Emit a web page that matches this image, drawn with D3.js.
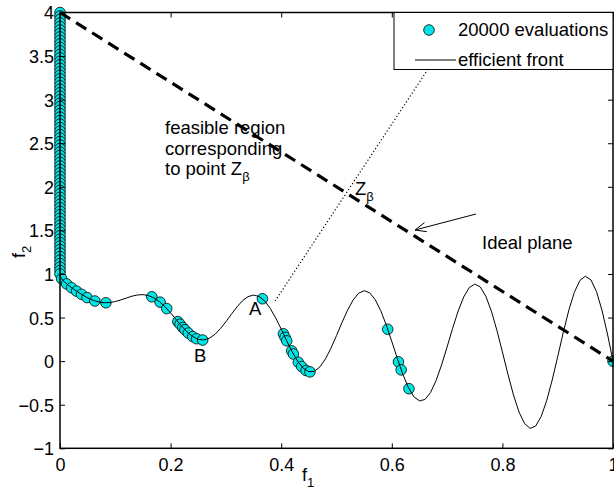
<!DOCTYPE html>
<html><head><meta charset="utf-8">
<script src="https://cdn.jsdelivr.net/npm/d3@7"></script>
<style>body{margin:0;background:#fff}svg{display:block}text{font-family:"Liberation Sans",Arial,sans-serif}</style>
</head><body>
<script>
// ---------- data ----------
const xTicks = [0, 0.2, 0.4, 0.6, 0.8, 1];
const xTickLabels = ["0", "0.2", "0.4", "0.6", "0.8", "1"];
const yTicks = [-1, -0.5, 0, 0.5, 1, 1.5, 2, 2.5, 3, 3.5, 4];
const yTickLabels = ["\u22121", "\u22120.5", "0", "0.5", "1", "1.5", "2", "2.5", "3", "3.5", "4"];

// efficient front
const frontF1 = [0, 0.001, 0.003, 0.005, 0.01, 0.02, 0.03, 0.04, 0.05, 0.06, 0.07, 0.08, 0.09, 0.10,
  0.11, 0.12, 0.13, 0.14, 0.15, 0.16, 0.17, 0.18, 0.19, 0.20, 0.21, 0.22, 0.23, 0.24, 0.25, 0.26, 0.27, 0.28, 0.29, 0.30,
  0.31, 0.32, 0.33, 0.34, 0.35, 0.36, 0.37, 0.38, 0.39, 0.40, 0.41, 0.42, 0.43, 0.44, 0.45, 0.46, 0.47, 0.48, 0.49, 0.50,
  0.51, 0.52, 0.53, 0.54, 0.55, 0.56, 0.57, 0.58, 0.59, 0.60, 0.61, 0.62, 0.63, 0.64, 0.65, 0.66, 0.67, 0.68, 0.69, 0.70,
  0.71, 0.72, 0.73, 0.74, 0.75, 0.76, 0.77, 0.78, 0.79, 0.80, 0.81, 0.82, 0.83, 0.84, 0.85, 0.86, 0.87, 0.88, 0.89, 0.90,
  0.91, 0.92, 0.93, 0.94, 0.95, 0.96, 0.97, 0.98, 0.99, 1.00];
const frontF2 = [1, 0.968, 0.945, 0.929, 0.897, 0.847, 0.803, 0.762, 0.726, 0.698, 0.679, 0.670, 0.672, 0.684,
  0.702, 0.724, 0.745, 0.759, 0.763, 0.752, 0.725, 0.682, 0.623, 0.553, 0.477, 0.402, 0.334, 0.282, 0.250, 0.243, 0.262, 0.306, 0.372, 0.452,
  0.539, 0.622, 0.693, 0.740, 0.758, 0.742, 0.691, 0.607, 0.496, 0.368, 0.233, 0.105, -0.004, -0.082, -0.121, -0.116, -0.066, 0.025, 0.149, 0.293,
  0.444, 0.585, 0.701, 0.779, 0.808, 0.784, 0.706, 0.579, 0.414, 0.225, 0.031, -0.152, -0.303, -0.409, -0.456, -0.440, -0.361, -0.224, -0.044, 0.163,
  0.377, 0.575, 0.736, 0.844, 0.884, 0.851, 0.745, 0.575, 0.355, 0.106, -0.150, -0.388, -0.583, -0.715, -0.772, -0.745, -0.637, -0.455, -0.218, 0.051,
  0.327, 0.582, 0.788, 0.925, 0.975, 0.933, 0.800, 0.586, 0.311, 0];

// 20000 evaluations
const evalF1 = [0, 0, 0, 0, 0, 0, 0, 0, 0, 0, 0, 0, 0, 0, 0, 0, 0, 0, 0, 0, 0, 0, 0, 0, 0, 0, 0, 0, 0, 0, 0, 0, 0, 0, 0, 0, 0, 0,
  0, 0, 0, 0, 0, 0, 0, 0, 0, 0, 0, 0, 0, 0, 0, 0, 0, 0, 0, 0, 0, 0, 0, 0, 0, 0, 0, 0, 0, 0, 0, 0, 0, 0, 0, 0, 0, 0,
  0.003, 0.012, 0.021, 0.030, 0.039, 0.049, 0.063, 0.083,
  0.166, 0.181, 0.193, 0.213, 0.217, 0.222, 0.226, 0.232, 0.240, 0.247, 0.258,
  0.366,
  0.404, 0.407, 0.410, 0.419, 0.422, 0.431, 0.437, 0.445, 0.452,
  0.5926, 0.612, 0.617, 0.631,
  1.0];
const evalF2 = [4, 3.96, 3.92, 3.88, 3.84, 3.8, 3.76, 3.72, 3.68, 3.64, 3.6, 3.56, 3.52, 3.48, 3.44, 3.4, 3.36, 3.32, 3.28, 3.24,
  3.2, 3.16, 3.12, 3.08, 3.04, 3, 2.96, 2.92, 2.88, 2.84, 2.8, 2.76, 2.72, 2.68, 2.64, 2.6, 2.56, 2.52,
  2.48, 2.44, 2.4, 2.36, 2.32, 2.28, 2.24, 2.2, 2.16, 2.12, 2.08, 2.04, 2, 1.96, 1.92, 1.88, 1.84, 1.8, 1.76, 1.72,
  1.68, 1.64, 1.6, 1.56, 1.52, 1.48, 1.44, 1.4, 1.36, 1.32, 1.28, 1.24, 1.2, 1.16, 1.12, 1.08, 1.04, 1.0,
  0.945, 0.886, 0.842, 0.803, 0.766, 0.729, 0.690, 0.670,
  0.738, 0.677, 0.603, 0.454, 0.424, 0.386, 0.360, 0.322, 0.282, 0.257, 0.242,
  0.716,
  0.314, 0.273, 0.233, 0.118, 0.082, -0.013, -0.062, -0.107, -0.123,
  0.366, -0.008, -0.100, -0.316,
  0];

// ideal plane and projection ray
const idealF1 = [0, 1];
const idealF2 = [4, 0];
const rayF1 = [0.389, 0.733];
const rayF2 = [0.69, 4];

const legendLabels = ["20000 evaluations", "efficient front"];

// ---------- drawing ----------
const W = 614, H = 491;
const x = d3.scaleLinear().domain([0, 1]).range([60, 613]);
const y = d3.scaleLinear().domain([-1, 4]).range([448.3, 12.5]);

const svg = d3.select("body").append("svg").attr("width", W).attr("height", H);
const plot = svg.append("g");

// evaluation markers
plot.append("g").selectAll("circle").data(evalF1.map((v, i) => [v, evalF2[i]]))
  .join("circle")
  .attr("cx", d => x(d[0])).attr("cy", d => y(d[1])).attr("r", 5.3)
  .attr("fill", "#00e6e6").attr("stroke", "#000").attr("stroke-width", 0.8);

// efficient front
const line = d3.line().x(d => x(d[0])).y(d => y(d[1]));
plot.append("path").datum(frontF1.map((v, i) => [v, frontF2[i]]))
  .attr("d", line).attr("fill", "none").attr("stroke", "#000").attr("stroke-width", 1);

// projection ray (dotted)
plot.append("path").datum(rayF1.map((v, i) => [v, rayF2[i]]))
  .attr("d", line).attr("fill", "none").attr("stroke", "#000").attr("stroke-width", 1.2)
  .attr("stroke-dasharray", "1.2,2.3");

// ideal plane (dashed)
plot.append("path").datum(idealF1.map((v, i) => [v, idealF2[i]]))
  .attr("d", line).attr("fill", "none").attr("stroke", "#000").attr("stroke-width", 3.2)
  .attr("stroke-dasharray", "12,7");

// axes box
const axG = svg.append("g");
axG.append("rect").attr("x", x(0)).attr("y", y(4)).attr("width", x(1) - x(0)).attr("height", y(-1) - y(4))
  .attr("fill", "none").attr("stroke", "#000").attr("stroke-width", 1.5);

const xAxB = d3.axisBottom(x).tickValues(xTicks).tickSizeInner(-5).tickSizeOuter(0).tickFormat((d, i) => xTickLabels[i]);
const xAxT = d3.axisTop(x).tickValues(xTicks).tickSizeInner(-5).tickSizeOuter(0).tickFormat("");
const yAxL = d3.axisLeft(y).tickValues(yTicks).tickSizeInner(-5).tickSizeOuter(0).tickFormat((d, i) => yTickLabels[i]).tickPadding(6);
const yAxR = d3.axisRight(y).tickValues(yTicks).tickSizeInner(-5).tickSizeOuter(0).tickFormat("");

function style(g) {
  g.select(".domain").remove();
  g.selectAll(".tick line").attr("stroke", "#000").attr("stroke-width", 1);
  g.selectAll(".tick text").attr("fill", "#000").attr("font-size", 18).attr("font-family", "Liberation Sans, Arial, sans-serif");
}
const gxb = axG.append("g").attr("transform", `translate(0,${y(-1)})`).call(xAxB).call(style);
gxb.selectAll(".tick text").attr("y", 23).attr("dy", null);
axG.append("g").attr("transform", `translate(0,${y(4)})`).call(xAxT).call(style);
const gyl = axG.append("g").attr("transform", `translate(${x(0)},0)`).call(yAxL).call(style);
gyl.selectAll(".tick text").attr("dy", "0.36em");
axG.append("g").attr("transform", `translate(${x(1)},0)`).call(yAxR).call(style);

// axis labels
const fs = 18;
const xl = svg.append("text").attr("x", 302).attr("y", 481).attr("font-size", fs);
xl.append("tspan").text("f");
xl.append("tspan").attr("font-size", 13).attr("dy", 6).text("1");

const yl = svg.append("text").attr("transform", "translate(25,258) rotate(-90)").attr("font-size", fs);
yl.append("tspan").text("f");
yl.append("tspan").attr("font-size", 13).attr("dy", 6).text("2");

// annotations
const ann = svg.append("g").attr("font-size", 18.5).attr("fill", "#000");
ann.append("text").attr("x", 165).attr("y", 134).text("feasible region");
ann.append("text").attr("x", 165).attr("y", 155).text("corresponding");
const tp = ann.append("text").attr("x", 165).attr("y", 175);
tp.append("tspan").text("to point Z");
tp.append("tspan").attr("font-size", 13).attr("dy", 6).text("\u03b2");

const zb = ann.append("text").attr("x", 355).attr("y", 195);
zb.append("tspan").text("Z");
zb.append("tspan").attr("font-size", 13).attr("dy", 6).text("\u03b2");

ann.append("text").attr("x", 482).attr("y", 249).text("Ideal plane");
ann.append("text").attr("x", 249).attr("y", 315).text("A");
ann.append("text").attr("x", 194).attr("y", 362).text("B");

// arrow
const ah = [415, 230], at = [476, 214];
svg.append("line").attr("x1", at[0]).attr("y1", at[1]).attr("x2", ah[0]).attr("y2", ah[1])
  .attr("stroke", "#000").attr("stroke-width", 1);
const ang = Math.atan2(at[1] - ah[1], at[0] - ah[0]);
const hl = 12, hw = 0.4;
svg.append("polyline").attr("points", [
  [ah[0] + hl * Math.cos(ang + hw), ah[1] + hl * Math.sin(ang + hw)],
  ah,
  [ah[0] + hl * Math.cos(ang - hw), ah[1] + hl * Math.sin(ang - hw)]
].map(p => p.join(",")).join(" ")).attr("fill", "none").attr("stroke", "#000").attr("stroke-width", 1);

// legend
const lg = svg.append("g");
lg.append("rect").attr("x", 394).attr("y", y(4)).attr("width", x(1) - 394).attr("height", 57)
  .attr("fill", "#fff").attr("stroke", "#000").attr("stroke-width", 1);
lg.append("circle").attr("cx", 429).attr("cy", 30).attr("r", 5.3)
  .attr("fill", "#00e6e6").attr("stroke", "#000").attr("stroke-width", 0.8);
lg.append("line").attr("x1", 415).attr("x2", 456).attr("y1", 60).attr("y2", 60).attr("stroke", "#000").attr("stroke-width", 1);
lg.selectAll("text.lt").data(legendLabels).join("text").attr("class", "lt")
  .attr("x", 458).attr("y", (d, i) => 36 + i * 30).attr("font-size", 18.5).text(d => d);
</script>
</body></html>
